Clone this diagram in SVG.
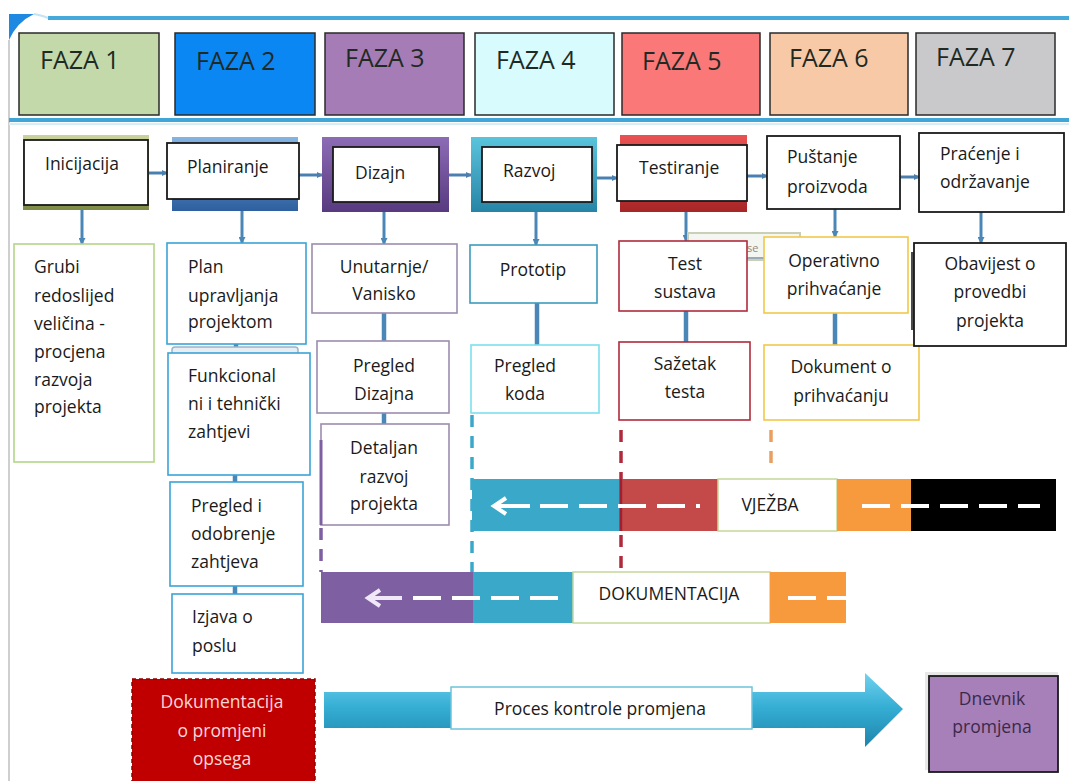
<svg xmlns="http://www.w3.org/2000/svg" width="1069" height="781" viewBox="0 0 1069 781">
<style>
.t{font-family:"Open Sans","Liberation Sans",sans-serif;font-size:17.5px;fill:#1a1a1a}
.ph{font-family:"Open Sans","Liberation Sans",sans-serif;font-size:25px;fill:#1f2a24}
.c{text-anchor:middle}
.pbox{stroke:#2a2a2a;stroke-width:1.5}
.wb{fill:#fff;stroke:#1a1a1a;stroke-width:1.8}
.r3{fill:#fff;stroke-width:1.6}
.hc{stroke:#4a80b0;stroke-width:3;fill:none;marker-end:url(#ah)}
.vc{stroke:#4a86b6;stroke-width:3;fill:none;marker-end:url(#av)}
.sc{stroke:#4a86b6;stroke-width:4.5;fill:none}
.dash{stroke:#fff;stroke-width:4;fill:none;stroke-dasharray:28 11}
.vd{stroke-width:3.5;fill:none;stroke-dasharray:12 9}
</style>
<defs>
<marker id="ah" markerWidth="6" markerHeight="6" refX="5" refY="3" orient="auto" markerUnits="userSpaceOnUse"><path d="M0,0 L6,3 L0,6 Z" fill="#4a80b0"/></marker>
<marker id="av" markerWidth="7" markerHeight="7" refX="6" refY="3.5" orient="auto" markerUnits="userSpaceOnUse"><path d="M0,0 L7,3.5 L0,7 Z" fill="#4a86b6"/></marker>
<linearGradient id="gOl" x1="0" y1="0" x2="0" y2="1"><stop offset="0" stop-color="#c9d39b"/><stop offset="1" stop-color="#7c8c47"/></linearGradient>
<linearGradient id="gBl" x1="0" y1="0" x2="0" y2="1"><stop offset="0" stop-color="#84b4e2"/><stop offset="1" stop-color="#2e5f9e"/></linearGradient>
<linearGradient id="gPu" x1="0" y1="0" x2="0" y2="1"><stop offset="0" stop-color="#8d6cb6"/><stop offset="1" stop-color="#573a7f"/></linearGradient>
<linearGradient id="gTe" x1="0" y1="0" x2="0" y2="1"><stop offset="0" stop-color="#5ac4dc"/><stop offset="1" stop-color="#2784a6"/></linearGradient>
<linearGradient id="gRe" x1="0" y1="0" x2="0" y2="1"><stop offset="0" stop-color="#ea5252"/><stop offset="1" stop-color="#a82626"/></linearGradient>
<linearGradient id="gAr" x1="0" y1="0" x2="0" y2="1"><stop offset="0" stop-color="#72d2ee"/><stop offset="0.45" stop-color="#36afd5"/><stop offset="1" stop-color="#1e84ab"/></linearGradient>
</defs>

<g id="frame">
<path d="M9,14 L34,14 Q17,22 9,40 Z" fill="#1f88e0"/>
<line x1="48" y1="18" x2="1069" y2="18" stroke="#45a9da" stroke-width="4"/>
<path d="M34,14 Q44,16 48,18" stroke="#c4e4f4" stroke-width="2" fill="none"/>
<line x1="9" y1="40" x2="9" y2="781" stroke="#cfcfcf" stroke-width="2"/>
<line x1="9" y1="120" x2="1069" y2="120" stroke="#40a6d8" stroke-width="4"/>
<line x1="9" y1="124" x2="1069" y2="124" stroke="#d6eef8" stroke-width="2"/>
</g>

<g id="phase1"><rect class="pbox" x="19" y="33" width="140" height="82" fill="#c3d9a9"/><text class="ph" x="40" y="69">FAZA 1</text></g>
<g id="phase2"><rect class="pbox" x="175" y="33" width="140" height="82" fill="#0a87f2"/><text class="ph" x="196" y="70">FAZA 2</text></g>
<g id="phase3"><rect class="pbox" x="325" y="33" width="139" height="82" fill="#a57cb6"/><text class="ph" x="345" y="67">FAZA 3</text></g>
<g id="phase4"><rect class="pbox" x="475" y="33" width="139" height="82" fill="#d8fbfd"/><text class="ph" x="496" y="69">FAZA 4</text></g>
<g id="phase5"><rect class="pbox" x="622" y="33" width="138" height="82" fill="#fa7878"/><text class="ph" x="642" y="70">FAZA 5</text></g>
<g id="phase6"><rect class="pbox" x="770" y="33" width="138" height="82" fill="#f7c9a7"/><text class="ph" x="789" y="67">FAZA 6</text></g>
<g id="phase7"><rect class="pbox" x="916" y="33" width="139" height="82" fill="#c9c9cb"/><text class="ph" x="936" y="66">FAZA 7</text></g>

<g id="connectors">
<line class="hc" x1="149" y1="173" x2="167" y2="173"/>
<line class="hc" x1="299" y1="175" x2="322" y2="175"/>
<line class="hc" x1="449" y1="175" x2="471" y2="175"/>
<line class="hc" x1="597" y1="178" x2="617" y2="178"/>
<line class="hc" x1="747" y1="176" x2="767" y2="176"/>
<line class="hc" x1="900" y1="177" x2="919" y2="177"/>
<line class="vc" x1="82" y1="210" x2="82" y2="244"/>
<line class="vc" x1="242" y1="211" x2="242" y2="243"/>
<line class="vc" x1="384" y1="212" x2="384" y2="244"/>
<line class="vc" x1="536" y1="212" x2="536" y2="245"/>
<line class="vc" x1="686" y1="212" x2="686" y2="241"/>
<line class="vc" x1="835" y1="209" x2="835" y2="237"/>
<line class="vc" x1="981" y1="212" x2="981" y2="243"/>
<line class="sc" x1="236" y1="344" x2="236" y2="353"/>
<line class="sc" x1="235" y1="475" x2="235" y2="483"/>
<line class="sc" x1="235" y1="586" x2="235" y2="594"/>
<line class="sc" x1="384" y1="313" x2="384" y2="341"/>
<line class="sc" x1="384" y1="413" x2="384" y2="424"/>
<line class="sc" x1="537" y1="303" x2="537" y2="345"/>
<line class="sc" x1="686" y1="311" x2="686" y2="342"/>
<line class="sc" x1="835" y1="313" x2="835" y2="345"/>
<line class="vd" stroke="#3aa9c9" x1="472" y1="415" x2="472" y2="572"/>
<line class="vd" stroke="#b02a3c" x1="621" y1="430" x2="621" y2="572"/>
<line class="vd" stroke="#e8a060" x1="771" y1="430" x2="771" y2="470"/>
<line class="vd" stroke="#7e5fa1" x1="321" y1="528" x2="321" y2="572"/>
</g>

<g id="n-inicijacija"><rect x="23" y="135" width="126" height="75" fill="url(#gOl)"/><rect class="wb" x="24" y="140" width="124" height="65"/><text class="t" x="45" y="170">Inicijacija</text></g>
<g id="n-planiranje"><rect x="172" y="137" width="126" height="74" fill="url(#gBl)"/><rect class="wb" x="167" y="143" width="132" height="56"/><text class="t" x="187" y="173">Planiranje</text></g>
<g id="n-dizajn"><rect x="322" y="137" width="127" height="75" fill="url(#gPu)"/><rect class="wb" x="333" y="147" width="106" height="55"/><text class="t" x="355" y="179">Dizajn</text></g>
<g id="n-razvoj"><rect x="471" y="137" width="126" height="75" fill="url(#gTe)"/><rect class="wb" x="482" y="147" width="110" height="55"/><text class="t" x="503" y="177">Razvoj</text></g>
<g id="n-testiranje"><rect x="620" y="135" width="127" height="77" fill="url(#gRe)"/><rect class="wb" x="617" y="145" width="130" height="56"/><text class="t" x="639" y="174">Testiranje</text></g>
<g id="n-pustanje"><rect class="wb" x="767" y="136" width="133" height="73"/><text class="t" x="787" y="163">Puštanje</text><text class="t" x="787" y="193">proizvoda</text></g>
<g id="n-pracenje"><rect class="wb" x="919" y="133" width="145" height="79"/><text class="t" x="940" y="160">Praćenje i</text><text class="t" x="940" y="188">održavanje</text></g>

<g id="n-grubi"><rect class="r3" stroke="#b5d58a" x="14" y="244" width="140" height="218"/><text class="t" x="34" y="273">Grubi</text><text class="t" x="34" y="302">redoslijed</text><text class="t" x="34" y="330">veličina -</text><text class="t" x="34" y="358">procjena</text><text class="t" x="34" y="386">razvoja</text><text class="t" x="34" y="413">projekta</text></g>
<g id="n-plan"><rect class="r3" stroke="#3aa3d8" x="167" y="243" width="139" height="101"/><text class="t" x="188" y="273">Plan</text><text class="t" x="188" y="302">upravljanja</text><text class="t" x="188" y="328">projektom</text></g>
<g id="n-funkcionalni"><rect x="172" y="347" width="126" height="8" rx="3" fill="#e8eef2" stroke="#9ab4c8" stroke-width="1.5"/><rect class="r3" stroke="#3aa3d8" x="168" y="353" width="142" height="122"/><text class="t" x="188" y="382">Funkcional</text><text class="t" x="188" y="410">ni i tehnički</text><text class="t" x="188" y="438">zahtjevi</text></g>
<g id="n-pregled-odobrenje"><rect class="r3" stroke="#3aa3d8" x="170" y="482" width="133" height="104"/><text class="t" x="191" y="512">Pregled i</text><text class="t" x="191" y="540">odobrenje</text><text class="t" x="191" y="568">zahtjeva</text></g>
<g id="n-izjava"><rect class="r3" stroke="#3aa3d8" x="172" y="594" width="131" height="79"/><text class="t" x="192" y="623">Izjava o</text><text class="t" x="192" y="652">poslu</text></g>
<g id="n-dok-promjeni"><rect x="132" y="679" width="183" height="104" fill="#c00000" stroke="#8e0000" stroke-width="1.5" stroke-dasharray="4 3"/><text class="t c" x="222" y="708" style="fill:#f8d8d8">Dokumentacija</text><text class="t c" x="222" y="737" style="fill:#f8d8d8">o promjeni</text><text class="t c" x="222" y="765" style="fill:#f8d8d8">opsega</text></g>

<g id="n-unutarnje"><rect class="r3" stroke="#9c8cae" x="312" y="244" width="145" height="69"/><text class="t c" x="384" y="273">Unutarnje/</text><text class="t c" x="384" y="300">Vanisko</text></g>
<g id="n-pregled-dizajna"><rect class="r3" stroke="#9c8cae" x="317" y="341" width="132" height="72"/><text class="t c" x="384" y="372">Pregled</text><text class="t c" x="384" y="400">Dizajna</text></g>
<g id="n-detaljan"><rect class="r3" stroke="#9c8cae" x="321" y="424" width="128" height="101"/><line x1="321" y1="440" x2="321" y2="525" stroke="#7e5fa1" stroke-width="3"/><text class="t c" x="384" y="454">Detaljan</text><text class="t c" x="384" y="483">razvoj</text><text class="t c" x="384" y="510">projekta</text></g>

<g id="n-prototip"><rect class="r3" stroke="#3d9cbc" x="470" y="245" width="127" height="58"/><text class="t c" x="533" y="276">Prototip</text></g>
<g id="n-pregled-koda"><rect class="r3" stroke="#7ce0ec" x="471" y="345" width="128" height="68"/><text class="t c" x="525" y="372">Pregled</text><text class="t c" x="525" y="400">koda</text></g>

<g id="ghost"><rect x="688" y="233" width="112" height="27" fill="#f4f6f2" stroke="#c8d0b8" stroke-width="2"/><line x1="747" y1="258" x2="764" y2="258" stroke="#9aaab8" stroke-width="2"/><text x="747" y="252" style="font-family:'Open Sans','Liberation Sans',sans-serif;font-size:11px;fill:#9a8878">se</text></g>

<g id="n-test-sustava"><rect class="r3" stroke="#b02a3c" x="619" y="241" width="128" height="70"/><text class="t c" x="685" y="270">Test</text><text class="t c" x="685" y="298">sustava</text></g>
<g id="n-sazetak"><rect class="r3" stroke="#b02a3c" x="619" y="342" width="131" height="78"/><text class="t c" x="685" y="370">Sažetak</text><text class="t c" x="685" y="398">testa</text></g>
<g id="n-operativno"><rect class="r3" stroke="#f2c84a" x="764" y="237" width="144" height="76"/><text class="t c" x="834" y="267">Operativno</text><text class="t c" x="834" y="295">prihvaćanje</text></g>
<g id="n-dokument-prihvacanju"><rect class="r3" stroke="#f2c84a" x="764" y="345" width="155" height="75"/><text class="t c" x="841" y="373">Dokument o</text><text class="t c" x="841" y="402">prihvaćanju</text></g>
<g id="n-obavijest"><rect x="911" y="252" width="6" height="78" fill="#4a4a4a"/><rect class="wb" x="914" y="243" width="152" height="103"/><text class="t c" x="990" y="270">Obavijest o</text><text class="t c" x="990" y="298">provedbi</text><text class="t c" x="990" y="327">projekta</text></g>

<g id="band-vjezba">
<rect x="472" y="479" width="147" height="52" fill="#3aa9c9"/>
<rect x="619" y="479" width="99" height="52" fill="#c44a4a"/>
<rect x="718" y="479" width="119" height="52" fill="#fff" stroke="#c4d89a" stroke-width="1.5"/>
<rect x="837" y="479" width="74" height="52" fill="#f79a3e"/>
<rect x="911" y="479" width="145" height="52" fill="#000"/>
<line x1="621" y1="479" x2="621" y2="531" stroke="#a02030" stroke-width="2.5"/>
<polyline points="506,498 494,506 506,514" fill="none" stroke="#fff" stroke-width="4"/>
<line x1="494" y1="506" x2="530" y2="506" stroke="#fff" stroke-width="4"/>
<line class="dash" x1="540" y1="506" x2="700" y2="506"/>
<line class="dash" x1="862" y1="506" x2="1040" y2="506"/>
<text class="t c" x="770" y="511">VJEŽBA</text>
</g>

<g id="band-dokumentacija">
<rect x="321" y="572" width="152" height="51" fill="#7e5fa1"/>
<rect x="473" y="572" width="100" height="51" fill="#3aa9c9"/>
<rect x="573" y="572" width="197" height="51" fill="#fff" stroke="#c4d89a" stroke-width="1.5"/>
<rect x="770" y="572" width="76" height="51" fill="#f79a3e"/>
<polyline points="380,590 368,598 380,606" fill="none" stroke="#f0e8f8" stroke-width="4"/>
<line x1="368" y1="598" x2="402" y2="598" stroke="#f0e8f8" stroke-width="4"/>
<line class="dash" x1="413" y1="598" x2="560" y2="598"/>
<line class="dash" x1="788" y1="598" x2="846" y2="598"/>
<text class="t c" x="669" y="600">DOKUMENTACIJA</text>
</g>

<g id="n-proces">
<path d="M324,692 L865,692 L865,673 L903,709 L865,747 L865,728 L324,728 Z" fill="url(#gAr)"/>
<rect x="451" y="687" width="301" height="42" fill="#fff" stroke="#6cc4dc" stroke-width="1.5"/>
<text class="t c" x="600" y="715">Proces kontrole promjena</text>
</g>

<g id="n-dnevnik"><rect x="925" y="672" width="133" height="98" fill="#d8d8d8" opacity="0.6"/><rect x="929" y="676" width="129" height="96" fill="#a77fb9" stroke="#1a1a1a" stroke-width="1.8"/><text class="t c" x="992" y="705" style="fill:#3a2a4a">Dnevnik</text><text class="t c" x="992" y="733" style="fill:#3a2a4a">promjena</text></g>
</svg>
